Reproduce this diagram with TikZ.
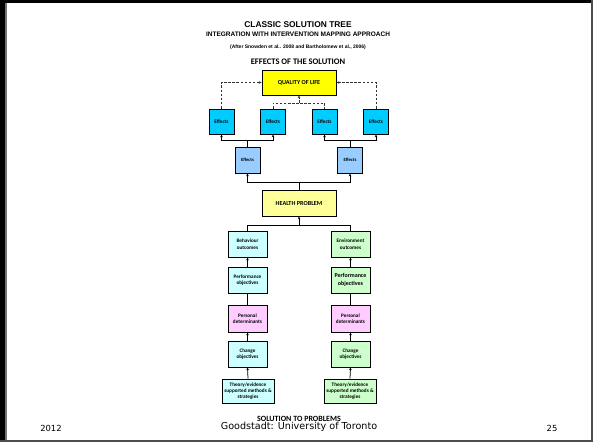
\documentclass[tikz,border=0pt]{standalone}
\usepackage{fontspec}
\setmainfont{Carlito}
\newfontfamily\arialf{Liberation Sans}
\newfontfamily\verdf{DejaVu Sans}
\usetikzlibrary{arrows.meta,shadows}
\definecolor{qolyellow}{HTML}{FFFF00}
\definecolor{effcyan}{HTML}{00CCFF}
\definecolor{effblue}{HTML}{99CCFF}
\definecolor{hpyellow}{HTML}{FFFF99}
\definecolor{lcyan}{HTML}{CCFFFF}
\definecolor{lgreen}{HTML}{CCFFCC}
\definecolor{lpink}{HTML}{FFCCFF}
\tikzset{
  boxbase/.style={draw=black, line width=0.9pt, align=center, inner sep=1pt,
    font=\bfseries\fontsize{5.2}{6.5}\selectfont,
    drop shadow={shadow xshift=0.7pt, shadow yshift=-0.7pt, fill=black!45, opacity=0.6}},
  bigbox/.style={boxbase, minimum width=74pt, minimum height=25pt,
    font=\bfseries\fontsize{6.2}{7}\selectfont},
  effbox/.style={boxbase, minimum width=25pt, minimum height=25pt,
    font=\bfseries\fontsize{5.2}{6}\selectfont},
  colbox/.style={boxbase, minimum width=39pt, minimum height=26pt},
  thbox/.style={boxbase, minimum width=52pt, minimum height=24pt,
    font=\bfseries\fontsize{5.2}{6.2}\selectfont},
  link/.style={line width=0.75pt, draw=black},
  uplink/.style={link, -{Stealth[length=2.8pt,width=2.6pt]}},
  dlink/.style={line width=0.85pt, draw=black!80, dashed, dash pattern=on 2.6pt off 1.5pt},
  updlink/.style={dlink, -{Stealth[length=2.8pt,width=2.6pt]}}
}
\begin{document}
\begin{tikzpicture}[x=1pt,y=-1pt]
\useasboundingbox (0,0) rectangle (593,442);
% slide frame
\fill[white] (0,0) rectangle (593,442);
\fill[black] (0,0) rectangle (593,3);
\fill[black] (0,0) rectangle (5,442);
\fill[black!55] (5,3) rectangle (6.5,442);
\fill[black!70] (590.5,0) rectangle (593,442);
\fill[black!70] (0,439.5) rectangle (593,442);

% headings
\node[font=\arialf\bfseries\fontsize{8.4}{9}\selectfont] (title) at (298,24.5) {CLASSIC SOLUTION TREE};
\node[font=\arialf\bfseries\fontsize{6.5}{7}\selectfont] (sub) at (298,34.5) {INTEGRATION WITH INTERVENTION MAPPING APPROACH};
\node[font=\arialf\bfseries\fontsize{5}{6}\selectfont] (after) at (298,47) {(After Snowden et al.. 2008 and Bartholomew et al., 2006)};
\node[font=\bfseries\fontsize{8.5}{9}\selectfont] (effhead) at (298,62) {EFFECTS OF THE SOLUTION};

% upper tree
\node[bigbox, fill=qolyellow] (qol) at (299,82.5) {QUALITY OF LIFE};
\node[effbox, fill=effcyan] (e1) at (221.5,121.5) {Effects};
\node[effbox, fill=effcyan] (e2) at (273,121.5) {Effects};
\node[effbox, fill=effcyan] (e3) at (324.5,121.5) {Effects};
\node[effbox, fill=effcyan] (e4) at (376,121.5) {Effects};
\node[effbox, fill=effblue, minimum height=26pt, font=\bfseries\fontsize{4.7}{6}\selectfont] (f1) at (247.5,160) {Effects};
\node[effbox, fill=effblue, minimum height=26pt, font=\bfseries\fontsize{4.7}{6}\selectfont] (f2) at (350,160) {Effects};
\node[bigbox, fill=hpyellow, minimum height=26pt] (hp) at (299,203) {HEALTH PROBLEM};

% left column
\node[colbox, fill=lcyan] (bo) at (247.5,244) {Behaviour\\outcomes};
\node[colbox, fill=lcyan] (po) at (247.5,280) {Performance\\objectives};
\node[colbox, fill=lpink, minimum height=27pt] (pd) at (247.5,318.5) {Personal\\determinants};
\node[colbox, fill=lcyan] (co) at (247.5,354) {Change\\objectives};
\node[thbox, fill=lcyan] (th) at (248,391) {Theory/evidence\\supported methods \&\\strategies};

% right column
\node[colbox, fill=lgreen] (eo) at (350.5,244) {Environment\\outcomes};
\node[colbox, fill=lgreen, font=\bfseries\fontsize{6}{7.2}\selectfont] (po2) at (350.5,280) {Performance\\objectives};
\node[colbox, fill=lpink, minimum height=27pt] (pd2) at (350.5,318.5) {Personal\\determinants};
\node[colbox, fill=lgreen] (co2) at (350.5,354) {Change\\objectives};
\node[thbox, fill=lgreen] (th2) at (350,391) {Theory/evidence\\supported methods \&\\strategies};

% junction points
\coordinate (jq) at (299,103);
\coordinate (ja) at (247.5,140);
\coordinate (jb) at (350,140);
\coordinate (jh) at (299,182);
\coordinate (jl) at (299,225);

% dashed links to quality of life
\draw[updlink] (e1.north) |- (qol.west);
\draw[updlink] (e4.north) |- (qol.east);
\draw[dlink] (e2.north) |- (jq) -| (e3.north);
\draw[updlink] (jq) -- (qol.south);

% effects branches
\draw[uplink] (ja) -| (e1.south);
\draw[uplink] (ja) -| (e2.south);
\draw[link] (ja) -- (f1.north);
\draw[uplink] (jb) -| (e3.south);
\draw[uplink] (jb) -| (e4.south);
\draw[link] (jb) -- (f2.north);

% health problem to effects
\draw[uplink] (jh) -| (f1.south);
\draw[uplink] (jh) -| (f2.south);
\draw[link] (jh) -- (hp.north);

% columns to health problem
\draw[uplink] (jl) -- (hp.south);
\draw[link] (jl) -| (bo.north);
\draw[link] (jl) -| (eo.north);

\draw[uplink] (po.north) -- (bo.south);
\draw[link] (pd.north) -- (po.south);
\draw[uplink] (co.north) -- (pd.south);
\draw[uplink] (th.north) -- (co.south);

\draw[uplink] (po2.north) -- (eo.south);
\draw[link] (pd2.north) -- (po2.south);
\draw[uplink] (co2.north) -- (pd2.south);
\draw[uplink] (th2.north) -- (co2.south);

% footer
\node[font=\bfseries\fontsize{8}{8}\selectfont] (soln) at (299,418.5) {SOLUTION TO PROBLEMS};
\node[font=\verdf\fontsize{9.6}{10}\selectfont] (uni) at (299,426.5) {Goodstadt: University of Toronto};
\node[font=\verdf\fontsize{8.4}{9}\selectfont] (year) at (51,428) {2012};
\node[font=\verdf\fontsize{8.4}{9}\selectfont] (page) at (552,428) {25};
\end{tikzpicture}
\end{document}
